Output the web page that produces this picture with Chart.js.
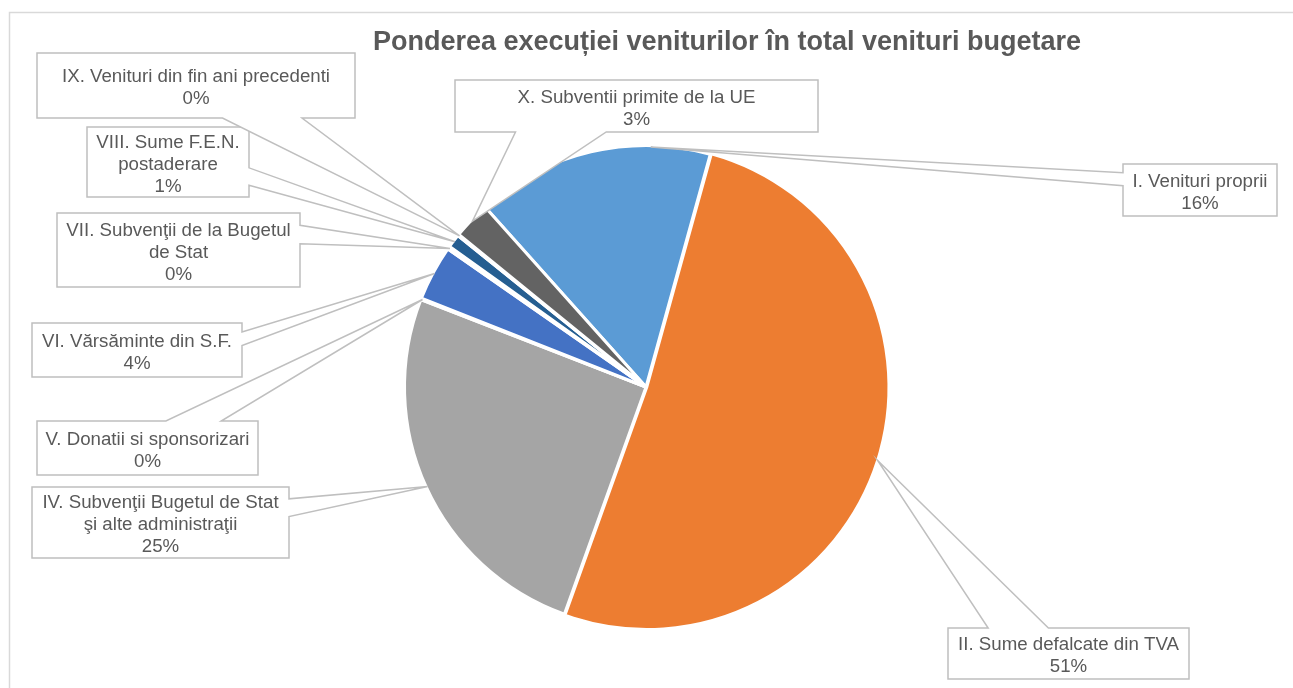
<!DOCTYPE html>
<html>
<head>
<meta charset="utf-8">
<script src="https://cdn.jsdelivr.net/npm/chart.js@4.4.0/dist/chart.umd.min.js"></script>
<style>
  html, body { margin: 0; padding: 0; background: #fff; overflow: hidden; }
  #wrap { position: relative; width: 1293px; height: 688px; }
</style>
</head>
<body>
<div id="wrap"><canvas id="pieChart" width="1293" height="688"></canvas></div>
<script>
const chartTitle = "Ponderea execuției veniturilor în total venituri bugetare";

// category names (wrapped as in the original labels)
const categories = [
    ["I. Venituri proprii"],
    ["II. Sume defalcate din TVA"],
    ["IV. Subvenţii Bugetul de Stat", "şi alte administraţii"],
    ["V. Donatii si sponsorizari"],
    ["VI. Vărsăminte din S.F."],
    ["VII. Subvenţii de la Bugetul", "de Stat"],
    ["VIII. Sume F.E.N.", "postaderare"],
    ["IX. Venituri din fin ani precedenti"],
    ["X. Subventii primite de la UE"]
];

// share of total revenue, %
const shares = [15.9, 51.2, 25.4, 0.1, 3.7, 0.2, 0.9, 0.1, 2.5];

const sliceColors = ['#5B9BD5', '#ED7D31', '#A5A5A5', '#FFC000', '#4472C4',
                     '#70AD47', '#255E91', '#9E480E', '#636363'];

// where each callout box sits on the page, and where along its slice the pointer lands
const calloutBoxes = [
    { x: 1123, y: 164, w: 154, h: 52, t: 0.75 },
    { x: 948, y: 628, w: 241, h: 51, t: 0.5 },
    { x: 32, y: 487, w: 257, h: 71, t: 0.5 },
    { x: 37, y: 421, w: 221, h: 54, t: 0.5 },
    { x: 32, y: 323, w: 210, h: 54, t: 0.5 },
    { x: 57, y: 213, w: 243, h: 74, t: 0.5 },
    { x: 87, y: 127, w: 162, h: 70, t: 0.5 },
    { x: 37, y: 53, w: 318, h: 65, t: 0.5 },
    { x: 455, y: 80, w: 363, h: 52, t: 0.5 }
];

const textColor = '#595959';
const labelFont = '18.7px "Liberation Sans", Arial, sans-serif';

function percentText(i) {
    const total = shares.reduce((a, b) => a + b, 0);
    return Math.round(shares[i] / total * 100) + '%';
}

// rectangle with a wedge pointer, like the Excel callout shape
function drawCallout(ctx, box, tip, lines) {
    const { x, y, w, h } = box;
    const dx = tip.x - (x + w / 2);
    const dy = tip.y - (y + h / 2);
    let side;
    if (Math.abs(dx) * h > Math.abs(dy) * w) {
        side = dx < 0 ? 'left' : 'right';
    } else {
        side = dy < 0 ? 'top' : 'bottom';
    }
    const along = (side === 'top' || side === 'bottom') ? dx : dy;
    const f1 = along > 0 ? 7 / 12 : 2 / 12;
    const f2 = along > 0 ? 10 / 12 : 5 / 12;

    ctx.beginPath();
    ctx.moveTo(x, y);
    if (side === 'top') {
        ctx.lineTo(x + w * f1, y); ctx.lineTo(tip.x, tip.y); ctx.lineTo(x + w * f2, y);
    }
    ctx.lineTo(x + w, y);
    if (side === 'right') {
        ctx.lineTo(x + w, y + h * f1); ctx.lineTo(tip.x, tip.y); ctx.lineTo(x + w, y + h * f2);
    }
    ctx.lineTo(x + w, y + h);
    if (side === 'bottom') {
        ctx.lineTo(x + w * f2, y + h); ctx.lineTo(tip.x, tip.y); ctx.lineTo(x + w * f1, y + h);
    }
    ctx.lineTo(x, y + h);
    if (side === 'left') {
        ctx.lineTo(x, y + h * f2); ctx.lineTo(tip.x, tip.y); ctx.lineTo(x, y + h * f1);
    }
    ctx.closePath();
    ctx.fillStyle = '#ffffff';
    ctx.fill();
    ctx.strokeStyle = '#BFBFBF';
    ctx.lineWidth = 1.5;
    ctx.lineJoin = 'miter';
    ctx.stroke();

    ctx.fillStyle = textColor;
    ctx.font = labelFont;
    ctx.textAlign = 'center';
    ctx.textBaseline = 'alphabetic';
    const lh = 22;
    const top = y + h / 2 - lines.length * lh / 2;
    lines.forEach((line, k) => {
        ctx.fillText(line, x + w / 2, top + k * lh + lh / 2 + 7.5);
    });
}

const calloutPlugin = {
    id: 'callouts',
    beforeDraw(chart) {
        const ctx = chart.ctx;
        ctx.save();
        // chart frame (continues past the right and bottom of the picture)
        ctx.strokeStyle = '#D9D9D9';
        ctx.lineWidth = 1.5;
        ctx.strokeRect(9.5, 12.5, 1500, 800);
        // title
        ctx.fillStyle = textColor;
        ctx.font = 'bold 27px "Liberation Sans", Arial, sans-serif';
        ctx.textAlign = 'center';
        ctx.textBaseline = 'alphabetic';
        ctx.fillText(chartTitle, 727, 50);
        ctx.restore();
    },
    afterDatasetsDraw(chart) {
        const ctx = chart.ctx;
        const arcs = chart.getDatasetMeta(0).data;
        const offsets = chart.data.datasets[0].offset;
        ctx.save();
        arcs.forEach((arc, i) => {
            const p = arc.getProps(['x', 'y', 'startAngle', 'endAngle', 'outerRadius'], true);
            const a = p.startAngle + calloutBoxes[i].t * (p.endAngle - p.startAngle);
            const mid = (p.startAngle + p.endAngle) / 2;
            const off = offsets[i] || 0;
            const r = p.outerRadius - 1.5;
            const tip = {
                x: p.x + Math.cos(mid) * off + Math.cos(a) * r,
                y: p.y + Math.sin(mid) * off + Math.sin(a) * r
            };
            drawCallout(ctx, calloutBoxes[i], tip, categories[i].concat([percentText(i)]));
        });
        ctx.restore();
    }
};

new Chart(document.getElementById('pieChart').getContext('2d'), {
    type: 'pie',
    data: {
        labels: categories,
        datasets: [{
            data: shares,
            backgroundColor: sliceColors,
            borderColor: '#ffffff',
            borderWidth: 3,
            borderJoinStyle: 'bevel',
            offset: [0, 3, 0, 0, 0, 0, 0, 0, 0]
        }]
    },
    options: {
        responsive: false,
        animation: false,
        rotation: -41.8,
        radius: 241.5,
        layout: { padding: { top: 147, bottom: 61, left: 406, right: 407 } },
        plugins: {
            legend: { display: false },
            tooltip: { enabled: false },
            title: { display: false }
        }
    },
    plugins: [calloutPlugin]
});
</script>
</body>
</html>
